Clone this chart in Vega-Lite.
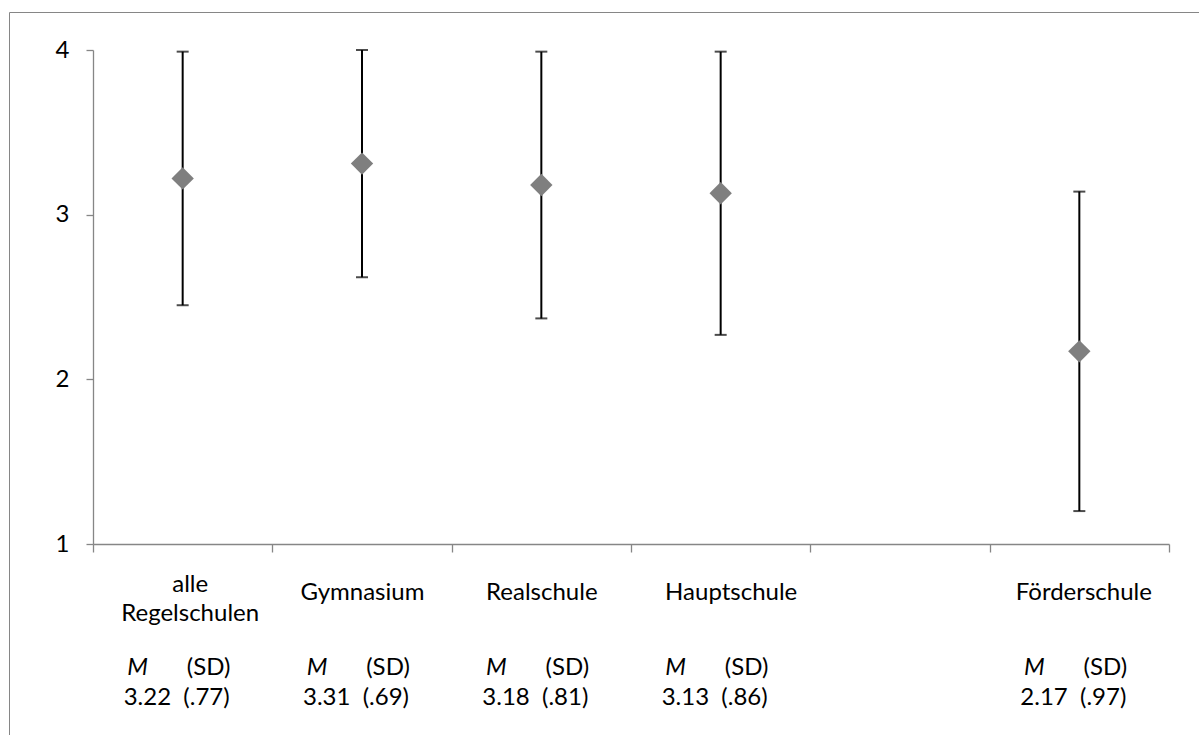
{
  "$schema": "https://vega.github.io/schema/vega-lite/v6.json",
  "autosize": "none",
  "padding": {"left": 9, "top": 12, "right": 0, "bottom": 0},
  "width": 1195,
  "height": 730,
  "background": "white",
  "config": {
    "view": {"stroke": "#868686", "strokeWidth": 1},
    "font": "Lato"
  },
  "data": {
    "values": [
      {"school": "alle Regelschulen", "mean": 3.22, "lo": 2.45, "hi": 3.99, "stat": "3.22\u00a0 (.77)"},
      {"school": "Gymnasium", "mean": 3.31, "lo": 2.62, "hi": 4.0, "stat": "3.31\u00a0 (.69)"},
      {"school": "Realschule", "mean": 3.18, "lo": 2.37, "hi": 3.99, "stat": "3.18\u00a0 (.81)"},
      {"school": "Hauptschule", "mean": 3.13, "lo": 2.27, "hi": 3.99, "stat": "3.13\u00a0 (.86)"},
      {"school": "Förderschule", "mean": 2.17, "lo": 1.2, "hi": 3.14, "stat": "2.17\u00a0 (.97)"}
    ]
  },
  "encoding": {
    "x": {
      "field": "school",
      "type": "nominal",
      "sort": null,
      "scale": {
        "type": "band",
        "domain": ["alle Regelschulen", "Gymnasium", "Realschule", "Hauptschule", " ", "Förderschule"],
        "range": [84, 1160],
        "paddingInner": 0,
        "paddingOuter": 0
      },
      "axis": {
        "title": null,
        "orient": "bottom",
        "offset": -198,
        "tickBand": "extent",
        "tickSize": 8,
        "tickColor": "#868686",
        "tickWidth": 1.3,
        "domainColor": "#868686",
        "domainWidth": 1.3,
        "labelAngle": 0,
        "labelFont": "Lato",
        "labelFontSize": 24,
        "labelColor": "#000000",
        "labelBaseline": "alphabetic",
        "labelPadding": {"condition": {"test": "datum.value === 'alle Regelschulen'", "value": 39}, "value": 47},
        "labelOffset": {"condition": [
          {"test": "datum.value === 'alle Regelschulen'", "value": 7},
          {"test": "datum.value === 'Hauptschule'", "value": 10},
          {"test": "datum.value === 'Förderschule'", "value": 4}
        ], "value": 0},
        "labelLineHeight": 29,
        "labelOverlap": false,
        "labelBound": false,
        "labelFlush": false,
        "labelLimit": 300,
        "labelExpr": "datum.value == 'alle Regelschulen' ? ['alle', 'Regelschulen'] : datum.value"
      }
    }
  },
  "layer": [
    {
      "mark": {"type": "rule", "color": "#000000", "strokeWidth": 2},
      "encoding": {
        "y": {
          "field": "lo",
          "type": "quantitative",
          "scale": {"domain": [1, 4], "range": [532, 38], "nice": false, "zero": false},
          "axis": {
            "title": null,
            "orient": "left",
            "offset": -84,
            "values": [1, 2, 3, 4],
            "format": "d",
            "grid": false,
            "tickSize": 7,
            "tickColor": "#868686",
            "tickWidth": 1.3,
            "domainColor": "#868686",
            "domainWidth": 1.3,
            "labelFont": "Lato",
            "labelFontSize": 24,
            "labelColor": "#000000",
            "labelPadding": 17,
            "labelFlush": false,
            "labelBound": false,
            "labelOverlap": false
          }
        },
        "y2": {"field": "hi"}
      }
    },
    {
      "mark": {"type": "tick", "color": "#000000", "thickness": 2, "size": 12, "orient": "horizontal"},
      "encoding": {"y": {"field": "lo", "type": "quantitative"}}
    },
    {
      "mark": {"type": "tick", "color": "#000000", "thickness": 2, "size": 12, "orient": "horizontal"},
      "encoding": {"y": {"field": "hi", "type": "quantitative"}}
    },
    {
      "mark": {"type": "point", "shape": "diamond", "filled": true, "size": 500, "color": "#7f7f7f", "opacity": 1},
      "encoding": {"y": {"field": "mean", "type": "quantitative"}}
    },
    {
      "mark": {"type": "text", "font": "Lato", "fontSize": 24, "fontStyle": "italic", "color": "#000000", "align": "center", "baseline": "alphabetic", "dx": -45},
      "encoding": {"y": {"datum": 0.205, "type": "quantitative"}, "text": {"value": "M"}}
    },
    {
      "mark": {"type": "text", "font": "Lato", "fontSize": 24, "color": "#000000", "align": "center", "baseline": "alphabetic", "dx": 26},
      "encoding": {"y": {"datum": 0.205, "type": "quantitative"}, "text": {"value": "(SD)"}}
    },
    {
      "mark": {"type": "text", "font": "Lato", "fontSize": 24, "color": "#000000", "align": "center", "baseline": "alphabetic", "dx": -6},
      "encoding": {"y": {"datum": 0.022, "type": "quantitative"}, "text": {"field": "stat", "type": "nominal"}}
    }
  ]
}
